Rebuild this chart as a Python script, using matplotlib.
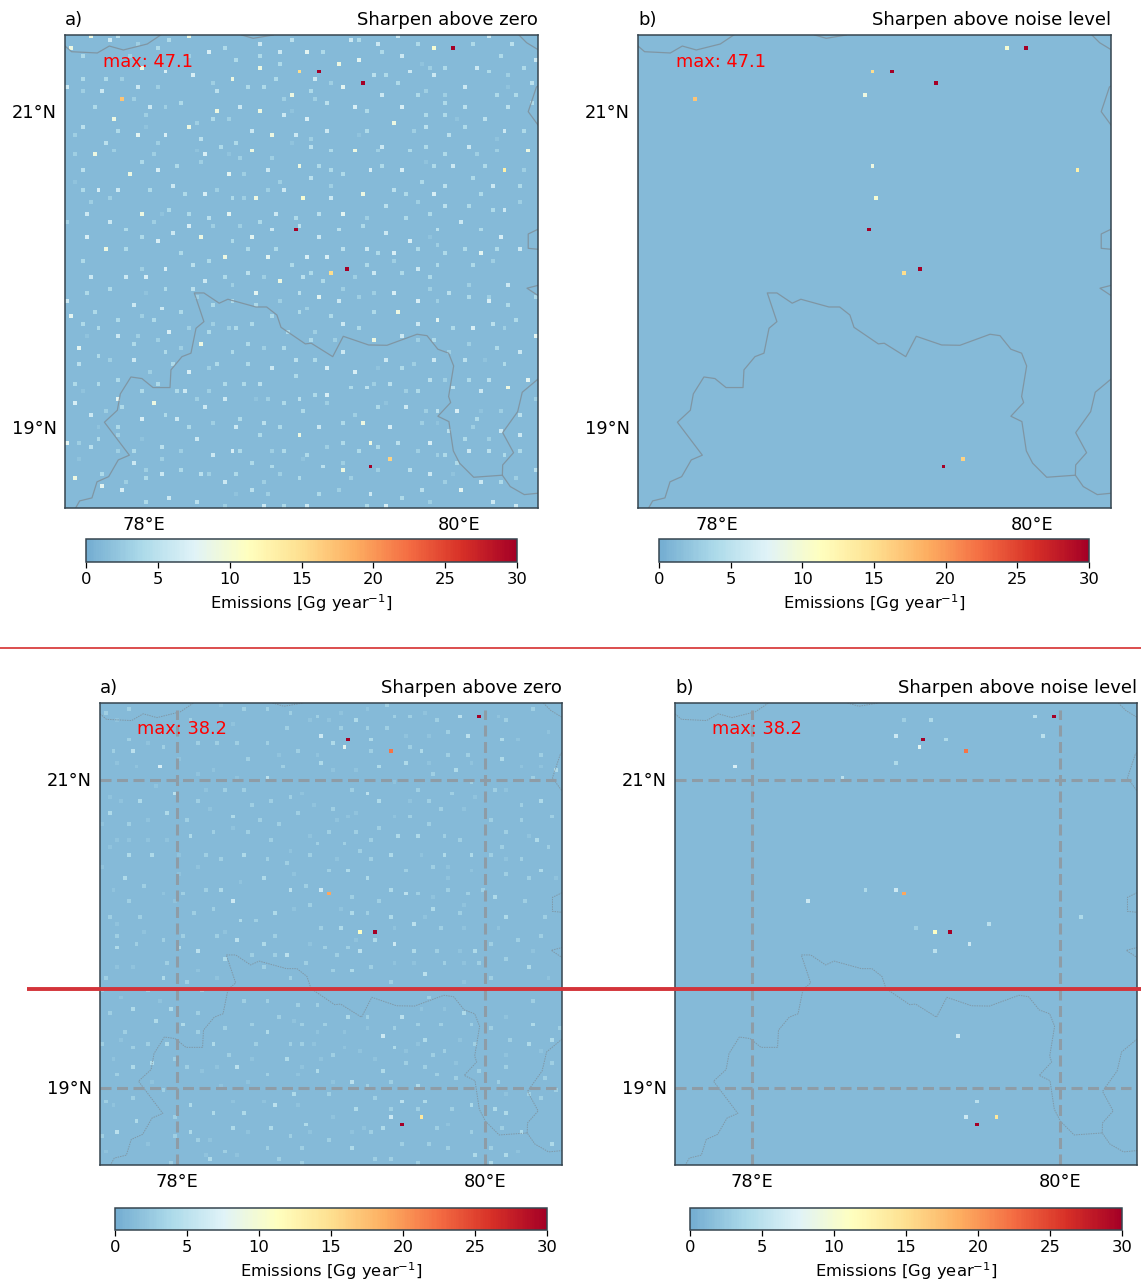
import numpy as np
import matplotlib
matplotlib.use('Agg')
import matplotlib.pyplot as plt
from matplotlib.colors import LinearSegmentedColormap, Normalize
from matplotlib.cm import ScalarMappable
from matplotlib.lines import Line2D
from matplotlib.transforms import ScaledTranslation

# emission cells on the 0.025 deg grid: (column, row from the top, Gg/year)
cells_a = [
(6,0,9),(13,0,5),(31,0,9),(11,1,6),(26,1,4),(1,3,9),(18,2,3),(23,3,4),(40,3,4),(49,2,6),(57,1,5),
(4,5,4),(16,5,3),(31,5,3),(36,4,7),(54,4,6),(49,5,4),(19,8,9),(25,9,7),(32,10,7),(43,6,4),(49,8,9),(54,7,4),(59,9,15),
(4,11,4),(10,11,4),(14,11,3),(42,11,9),(53,11,4),(0,13,6),(18,13,6),(23,13,3),(37,12,3),(46,13,4),(50,13,4),(38,14,5),(4,14,3),(9,14,6),
(14,16,17),(17,16,3),(57,15,9),(55,16,3),(7,18,4),(21,18,6),(25,18,3),(29,17,4),(38,19,9),(44,18,6),(49,19,9),(57,19,2),
(12,21,9),(20,20,3),(33,22,3),(37,21,4),(41,21,3),(55,20,6),(4,23,5),(31,23,9),(20,23,2),(13,24,4),(47,24,6),
(2,25,3),(18,25,8),(25,25,7),(34,26,5),(52,25,9),(58,25,6),(10,27,5),(23,27,3),(43,27,4),(39,28,4),(57,27,2),
(2,30,3),(7,30,9),(12,29,3),(22,30,3),(33,29,2),(35,30,7),(41,30,2),(47,29,9),(19,32,4),(34,32,3),(44,31,3),(52,31,3),(28,33,4),(59,33,9),
(4,34,5),(16,35,9),(23,34,7),(41,35,8),(45,35,3),(51,34,6),(2,37,2),(54,37,3),(27,38,6),
(4,39,4),(8,39,7),(13,39,6),(21,39,4),(38,39,3),(51,39,3),(55,39,6),(30,40,4),(35,40,7),
(6,42,3),(11,41,3),(42,41,4),(45,41,3),(48,41,9),(5,45,6),(19,45,9),(26,44,4),(24,45,2),(31,45,4),(41,45,8),(53,45,6),(58,46,4),(36,46,5),
(0,47,3),(11,47,6),(22,47,3),(49,47,4),(31,48,7),(37,48,3),(44,48,3),(59,48,5),(15,49,4),(52,49,6),(58,49,30),(27,50,6),
(5,51,7),(19,51,4),(34,51,9),(47,51,8),(23,52,7),(42,52,4),(10,54,9),(15,54,4),(46,54,4),(53,54,4),(29,55,4),(40,56,9),(51,56,8),
(4,57,4),(36,57,4),(32,58,5),(57,58,4),(25,59,7),(19,59,3),
(84,0,6),(107,0,6),(72,1,6),(74,1,4),(79,2,6),(89,2,4),(93,3,10),(98,3,30),(103,2,4),(113,2,5),
(61,4,8),(65,4,4),(80,4,4),(85,5,6),(110,5,4),(119,6,6),(69,7,9),(74,6,8),(90,7,2),(92,8,3),(96,8,4),(104,8,6),(116,8,4),
(64,9,30),(78,10,5),(81,10,4),(87,9,6),(93,10,6),(107,9,4),(112,10,3),(63,11,6),(67,12,3),(75,12,30),(84,12,4),(118,12,5),
(62,14,4),(70,13,8),(91,14,3),(101,13,6),(112,13,2),(80,15,6),(89,15,4),(96,15,3),(109,15,4),(114,15,4),
(63,16,3),(66,17,5),(96,17,4),(118,17,4),(73,18,7),(76,19,4),(85,18,7),(101,18,5),(112,18,5),
(61,21,7),(91,20,4),(96,20,4),(99,21,2),(106,21,5),(83,22,9),(91,23,5),(101,23,4),
(66,24,6),(76,24,4),(88,24,3),(111,24,6),(116,24,4),(97,25,5),(74,25,2),(62,26,3),(109,26,2),
(62,28,5),(80,28,6),(91,28,4),(102,28,6),(67,29,4),(73,29,9),(79,29,3),(87,29,4),(109,29,3),(117,29,9),
(96,30,4),(104,30,3),(91,32,2),(64,33,4),(80,33,4),(93,33,4),(98,33,6),(106,33,4),
(67,34,4),(77,34,7),(85,34,7),(111,34,13),(116,34,3),(70,35,4),(62,36,5),(103,36,4),(90,37,4),
(67,38,3),(96,38,5),(108,38,6),(115,38,4),(83,39,5),(75,40,9),(86,40,4),(93,40,7),(105,40,4),(60,41,10),(67,41,6),
(89,42,3),(115,42,3),(81,43,5),(96,43,5),(102,43,4),(108,44,4),(111,44,6),(64,45,5),(70,45,8),(92,45,4),(76,46,3),(86,46,4),
(100,47,6),(75,48,4),(69,49,5),(94,49,5),(105,49,4),(81,50,6),(64,51,6),(92,51,2),(110,51,7),(87,52,7),
(70,54,5),(76,54,6),(89,54,4),(101,54,4),(109,54,4),(115,54,6),(94,53,3),(79,55,4),(83,55,7),(96,55,4),(105,55,8),(61,56,7),(66,56,7),
(83,57,3),(108,57,3),(76,58,4),(94,58,4),(103,58,4),(71,59,30),(89,59,6),
(6,61,6),(15,61,6),(20,61,7),(40,61,4),(46,60,5),(50,61,3),(35,62,6),(54,62,9),(42,63,3),(11,64,4),(25,64,4),(32,64,5),(5,65,4),(20,65,2),(48,65,8),(59,65,5),
(0,67,6),(42,67,4),(33,66,3),(54,67,3),(17,68,6),(37,68,4),(48,68,4),(24,69,6),(7,70,4),(29,70,4),(59,70,4),(1,71,8),(19,71,3),(52,71,4),(13,72,4),(22,72,4),
(4,73,4),(37,73,3),(47,73,4),(8,74,4),(31,74,3),(41,74,3),(43,74,4),(26,75,7),(36,75,4),(56,75,4),(5,76,2),(13,76,6),(18,76,3),(23,77,3),
(17,78,4),(34,78,9),(3,79,8),(29,79,3),(46,78,4),(50,79,3),(55,79,4),(25,80,4),(42,80,4),(8,81,4),(11,82,3),(17,82,6),(58,82,5),
(3,83,5),(27,83,4),(38,83,4),(46,83,4),(36,84,3),(52,84,6),(31,85,7),(21,85,3),(58,86,4),(13,87,4),
(2,88,4),(8,88,4),(23,88,4),(40,88,4),(45,88,4),(49,88,5),(4,90,2),(19,90,4),(28,90,4),(30,90,6),(36,90,3),
(13,92,8),(40,92,6),(33,92,3),(51,92,3),(48,92,2),(59,92,5),(2,93,7),(22,93,9),(55,93,4),(14,94,4),(35,94,6),(10,95,3),(6,96,6),(25,96,4),
(19,97,7),(28,97,6),(44,97,4),(37,98,3),(50,98,5),(13,99,4),(8,99,2),(31,99,4),(43,99,6),(54,99,4),(13,101,3),(49,101,4),(59,101,9),
(8,102,4),(19,102,2),(33,102,6),(0,103,8),(3,103,3),(6,104,5),(24,104,5),(13,105,3),(17,105,4),(29,105,3),(42,105,7),(44,105,4),(52,105,3),(55,105,4),
(37,106,6),(3,107,2),(24,107,3),(17,108,6),(47,108,4),(52,109,4),(20,110,3),(29,110,4),(9,111,4),(24,111,6),(34,111,5),(36,111,3),(43,111,4),(54,111,3),
(2,112,9),(20,112,4),(59,112,4),(15,113,3),(40,113,6),(50,113,3),(9,114,8),(14,115,7),(47,115,5),(43,116,2),(51,116,3),(26,117,6),(20,118,4),(33,118,5),(40,119,3),(50,119,6),(55,119,4),
(62,60,4),(67,60,15),(78,60,6),(85,60,4),(60,61,5),(73,61,3),(92,61,4),(65,62,4),(112,63,6),(102,63,3),(70,64,3),(92,64,3),(78,65,3),(83,65,7),(97,65,5),
(64,66,8),(74,66,3),(102,66,4),(107,66,3),(119,66,4),(69,67,6),(89,67,7),(94,67,3),(107,67,7),(112,68,4),(61,69,3),(78,70,4),(84,70,9),(67,71,4),
(94,72,8),(114,72,4),(70,73,6),(89,73,6),(108,73,5),(74,74,4),(98,74,4),(103,74,7),(111,74,3),(63,75,3),(85,76,6),(119,76,8),
(62,77,4),(68,77,3),(78,77,9),(89,77,3),(93,77,4),(102,78,3),(109,79,4),(70,80,6),(97,80,3),(115,80,6),(63,82,4),(81,82,6),(93,82,6),(101,82,5),(106,82,2),
(88,83,3),(111,83,4),(66,84,7),(79,84,2),(85,84,4),(73,85,7),(92,87,5),(96,87,3),(102,87,4),(107,87,5),(117,87,8),(82,88,5),(78,88,3),
(72,89,4),(76,89,5),(98,89,5),(112,89,9),(86,90,3),(89,90,4),(105,90,6),(63,91,4),(66,91,7),(119,92,3),(66,93,3),(81,93,2),(79,94,4),(86,94,6),
(60,95,4),(91,95,3),(94,95,5),(99,95,7),(105,95,2),(110,95,3),(73,96,3),(115,96,5),(104,97,4),(70,98,4),(75,98,9),(90,98,3),(94,98,2),(64,99,6),(82,99,7),(103,99,3),
(97,100,5),(110,100,6),(115,101,6),(70,103,4),(77,103,9),(84,103,5),(92,103,7),(66,104,3),(79,104,4),(101,102,4),(107,102,3),(61,106,4),(74,105,4),(89,105,3),(96,106,4),(94,106,3),(102,105,6),(107,105,5),(115,105,4),(111,106,4),
(82,107,16),(60,107,2),(70,108,3),(99,108,4),(65,109,5),(77,109,30),(70,110,9),(79,110,3),(87,110,5),(119,110,5),(92,111,6),(98,111,2),(72,112,3),(114,112,3),(96,113,3),(105,113,6),(110,113,4),
(90,115,5),(100,115,8),(69,115,3),(64,116,4),(77,116,6),(85,117,4),(92,118,3),(108,118,6),(61,119,6),(76,119,4),(81,119,7),(114,119,6),
]
cells_b = [
(93,3,10),(98,3,30),(59,9,15),(64,9,30),(75,12,30),(57,15,9),(14,16,17),(59,33,9),(111,34,13),(60,41,10),
(58,49,30),(67,60,15),(71,59,30),(77,109,30),(82,107,16),
]
cells_c = [
(1,2,3),(7,1,3),(31,0,2),(37,1,3),(43,1,3),(49,2,3),(4,4,2),(23,4,3),(34,5,2),(54,4,2),(56,3,3),(59,4,2),
(7,9,3),(12,10,2),(25,10,3),(30,10,3),(35,10,3),(43,10,3),(48,6,3),(57,8,6),(16,11,3),(3,12,3),(8,12,5),(20,14,2),(51,12,3),(46,13,2),(56,13,2),
(4,15,2),(9,16,2),(15,16,7),(29,17,2),(38,14,3),(47,16,3),(57,15,4),(60,17,2),(25,18,2),(43,19,5),(35,19,2),(14,21,2),(32,22,3),(37,22,3),(19,23,5),(27,22,2),(5,25,2),
(10,25,4),(25,25,3),(39,26,3),(44,25,3),(49,24,3),(52,23,2),(55,26,2),(2,24,2),(60,27,3),(28,27,2),(2,28,4),(17,28,4),(34,29,4),(51,28,3),
(7,31,3),(12,30,2),(22,30,3),(41,30,3),(46,31,3),(0,31,2),(34,32,2),(23,34,4),(29,33,3),(38,33,3),(59,33,3),(54,34,2),
(4,35,2),(7,35,2),(12,35,2),(17,35,2),(44,35,3),(56,36,3),(2,37,2),(49,38,2),(7,39,4),(13,39,4),(20,39,2),(27,39,3),(37,39,4),(54,39,3),(43,40,3),(31,40,3),(48,41,3),
(0,42,2),(25,42,2),(59,43,3),(6,45,4),(20,44,2),(42,45,4),(50,44,2),(57,48,6),(36,46,2),(11,47,3),(3,48,2),(16,49,2),(21,49,3),(27,48,3),(31,48,4),(49,48,5),(53,47,3),(59,49,19),
(7,51,3),(19,51,2),(34,51,6),(29,53,3),(54,52,3),(50,53,2),(2,55,3),(10,55,3),(24,54,3),(45,54,4),(4,57,2),(36,56,4),(40,56,3),(57,58,3),(11,59,2),(32,59,2),
(62,2,2),(69,1,2),(74,0,3),(66,4,4),(76,3,3),(80,3,3),(84,2,2),(87,4,3),(93,3,5),(98,3,30),(103,3,2),(105,4,3),(112,1,3),(62,6,3),(69,6,3),(74,6,3),(90,7,3),(85,8,2),(79,8,2),(95,8,5),(116,7,2),
(64,9,30),(70,9,4),(104,9,4),(108,9,2),(60,10,4),(63,11,8),(70,12,3),(75,12,22),(80,11,3),(83,12,4),(90,13,3),(95,13,3),(114,13,3),
(66,17,2),(72,16,4),(79,15,4),(104,14,4),(92,17,4),(85,15,2),(96,15,2),(109,16,2),(114,16,2),(118,17,4),(86,18,3),(76,20,2),(96,20,3),(112,19,3),
(65,22,3),(69,23,5),(82,22,3),(91,23,3),(102,22,3),(97,24,2),(105,22,2),(72,25,4),(85,25,3),(80,25,2),(114,25,4),(109,26,3),(60,27,3),(88,27,3),(94,27,2),(66,28,2),
(64,29,2),(76,29,2),(80,29,3),(117,29,3),(61,30,2),(101,30,3),(109,30,3),(85,31,3),(72,32,3),(66,33,3),(105,33,3),(77,34,4),(82,34,4),(89,34,3),(111,34,2),
(70,35,3),(93,35,3),(113,35,4),(63,36,3),(104,37,3),(116,37,3),(67,38,3),(75,39,4),(83,39,2),(89,39,4),(96,39,4),(101,39,3),(61,40,2),(70,40,3),(105,40,2),(109,40,3),
(86,42,3),(90,42,2),(64,43,4),(79,43,3),(96,43,2),(114,43,4),(105,44,3),(69,45,4),(90,45,2),(111,45,3),(118,45,2),(75,48,4),(90,48,3),(79,49,5),(82,49,3),(95,49,3),(99,48,3),
(65,50,3),(86,50,2),(102,50,4),(72,51,3),(110,51,3),(94,52,2),(86,53,4),(62,53,2),(65,54,4),(69,54,3),(93,54,3),(75,55,4),(105,55,4),(115,55,3),(84,55,2),
(81,57,5),(88,58,3),(62,58,4),(76,58,2),(94,58,2),(103,58,2),(67,59,11),(71,59,30),
(4,60,3),(16,61,3),(9,62,3),(4,63,4),(21,60,3),(30,60,3),(35,61,5),(42,62,4),(45,60,3),(20,63,4),(25,64,5),(54,62,2),(58,63,3),(39,65,3),(45,65,3),(48,65,5),(32,66,4),(53,67,3),
(17,67,3),(4,68,2),(8,68,2),(42,68,3),(25,69,2),(60,69,3),(1,71,3),(16,71,4),(22,72,3),(30,71,2),(49,71,3),(0,74,3),(5,76,2),(12,74,3),(15,77,2),(26,74,3),(37,77,3),(43,77,3),(51,78,3),(56,78,3),
(8,79,4),(18,79,4),(2,80,3),(25,80,3),(46,81,3),(14,82,4),(21,83,4),(39,83,3),(50,82,2),(52,83,3),(58,83,3),(32,84,3),(6,85,3),(25,85,3),(43,85,4),(56,85,2),
(5,87,2),(0,88,3),(8,89,3),(12,88,3),(17,88,4),(29,88,4),(40,88,3),(49,88,3),(52,88,3),(55,88,2),(3,92,2),(19,92,3),(33,91,3),(48,92,4),(39,92,2),(57,92,2),
(13,93,4),(8,94,4),(22,94,3),(30,94,2),(35,94,5),(52,94,2),(26,95,2),(56,95,4),(4,96,3),(43,96,3),(51,96,2),(13,98,2),(38,98,2),(16,100,3),(31,99,2),(8,102,3),(50,101,4),(59,101,3),
(1,103,3),(34,103,2),(42,103,2),(23,104,4),(45,104,5),(3,104,2),(51,104,2),(29,106,4),(37,106,4),(19,107,3),(60,107,3),(9,108,4),(53,109,4),(34,110,4),(44,110,4),(23,111,4),(4,111,5),(38,111,2),(54,111,2),
(0,112,3),(19,112,3),(49,112,3),(25,113,3),(28,113,2),(59,113,3),(12,114,2),(43,115,3),(52,115,3),(1,116,2),(32,116,3),(35,117,2),(28,118,4),(46,118,3),(18,119,3),(52,119,3),(27,117,2),
(71,61,4),(76,62,6),(64,63,3),(101,62,3),(108,61,3),(114,60,3),(66,61,2),(67,64,5),(81,64,4),(87,64,3),(93,64,2),(97,64,4),(112,64,2),(61,65,3),(70,68,3),(89,67,3),(105,66,3),(98,67,3),(76,67,2),(81,67,2),(94,67,2),(111,68,4),
(65,69,4),(84,70,5),(101,71,3),(75,72,3),(94,72,2),(116,71,2),(112,77,3),(85,76,3),(83,79,2),(89,79,2),(78,81,5),(64,81,4),(69,81,3),(94,80,4),(105,81,2),
(82,83,3),(88,83,3),(96,83,3),(112,83,4),(69,84,2),(76,84,3),(101,84,3),(119,84,3),(63,85,2),(73,86,6),(84,87,4),(106,87,3),(117,87,4),(93,87,2),(82,88,2),(97,88,3),(111,88,4),(63,89,2),(76,89,4),
(89,90,3),(67,90,2),(79,90,2),(60,91,3),(86,91,3),(105,91,2),(114,90,2),(71,92,2),(79,93,3),(92,93,2),(117,93,3),(84,94,3),(105,94,3),(98,95,3),(73,95,4),(87,96,3),(115,97,3),
(92,97,3),(65,98,5),(75,98,3),(103,98,3),(60,98,2),(82,99,4),(69,99,3),(111,101,3),(105,101,2),(118,100,3),(71,102,3),(84,103,4),(78,103,5),(114,102,3),
(66,105,4),(82,105,3),(75,105,3),(91,105,3),(96,104,4),(102,105,4),(105,106,4),(75,107,6),(83,107,14),(60,107,2),(90,109,2),(78,109,30),(73,110,4),(70,111,3),(87,110,3),(65,111,2),(68,110,2),(96,111,3),(104,110,3),(109,111,4),
(78,114,3),(85,114,3),(117,114,4),(65,115,4),(90,115,3),(101,115,3),(108,116,2),(97,117,4),(105,117,4),(71,118,3),(75,118,3),(82,119,3),(101,119,4),
]
cells_d = [
(59,4,3),(66,4,4),(93,3,5),(98,3,30),(57,8,6),(95,8,5),(70,9,4),(64,9,30),(63,11,8),(75,12,22),(15,16,7),(57,15,4),(43,19,5),
(49,48,4),(57,48,6),(59,49,19),(34,51,6),(62,58,3),(67,59,11),(71,59,30),(81,57,5),(76,62,6),(67,64,5),(105,55,4),
(73,86,6),(78,103,5),(75,107,6),(83,107,14),(78,109,30),
]

background = 1.2
vmin, vmax = 0, 30
cbar_ticks = [0, 5, 10, 15, 20, 25, 30]
lon_ticks = [78, 80]
lat_ticks = [19, 21]
panel_letters = ['a)', 'b)', 'a)', 'b)']
panel_titles = ['Sharpen above zero', 'Sharpen above noise level', 'Sharpen above zero', 'Sharpen above noise level']
panel_max = ['max: 47.1', 'max: 47.1', 'max: 38.2', 'max: 38.2']

# state borders, lon/lat
border_main_lon = [77.565,77.593,77.671,77.703,77.777,77.838,77.908,77.75,77.832,77.851,77.918,77.988,78.058,78.166,78.172,78.242,78.299,78.331,78.381,78.32,78.381,78.478,78.533,78.711,78.779,78.844,78.87,79.024,79.062,79.198,79.265,79.426,79.542,79.733,79.796,79.865,79.933,79.965,79.933,79.946,79.865,79.935,79.963,80.003,80.092,80.274,80.324,80.413,80.504]
border_main_lat = [18.496,18.545,18.564,18.666,18.699,18.805,18.835,19.044,19.12,19.224,19.331,19.321,19.264,19.264,19.376,19.46,19.482,19.64,19.682,19.864,19.864,19.799,19.824,19.775,19.775,19.724,19.646,19.541,19.545,19.46,19.589,19.534,19.532,19.602,19.593,19.507,19.482,19.401,19.207,19.169,19.082,19.048,18.862,18.784,18.695,18.708,18.636,18.585,18.594]
border_branch_lon = [80.274,80.276,80.345,80.276,80.371,80.4,80.504]
border_branch_lat = [18.708,18.773,18.851,18.978,19.111,19.234,19.321]
border_inset_lon = [80.504,80.43,80.504]
border_inset_lat = [19.913,19.894,19.845]
border_nw_lon = [77.5,77.542,77.705,77.781,77.87,78.022,78.107]
border_nw_lat = [21.43,21.394,21.386,21.43,21.405,21.443,21.5]
border_n_lon = [78.62,78.694,78.821]
border_n_lat = [21.5,21.479,21.5]
border_ne_lon = [80.379,80.428,80.497]
border_ne_lat = [21.5,21.451,21.409]
border_e_lon = [80.5,80.49,80.438,80.5]
border_e_lat = [21.177,21.17,21.014,20.929]
border_e2_lon = [80.5,80.438,80.438,80.5]
border_e2_lat = [20.268,20.238,20.147,20.141]
borders = [(border_main_lon,border_main_lat),(border_branch_lon,border_branch_lat),(border_inset_lon,border_inset_lat),
           (border_nw_lon,border_nw_lat),(border_n_lon,border_n_lat),(border_ne_lon,border_ne_lat),
           (border_e_lon,border_e_lat),(border_e2_lon,border_e2_lat)]

W, H = 1141, 1283
fig = plt.figure(figsize=(W/100, H/100), dpi=100)

def rect(x0, y0, x1, y1):
    # pixel box (y from the top) to figure fractions
    return [x0/W, 1-y1/H, (x1-x0)/W, (y1-y0)/H]

base = plt.cm.RdYlBu_r(np.linspace(0.2, 1, 256))
cmap = LinearSegmentedColormap.from_list('emis', base)
norm = Normalize(vmin, vmax)

def draw_panel(box, cbar_box, cells, letter, title, maxtxt, grid, label_dy):
    ax = fig.add_axes(rect(*box))
    field = np.full((120, 120), background)
    for c, r, v in cells:
        field[r, c] = v
    ax.imshow(field, cmap=cmap, norm=norm, extent=(77.5, 80.5, 18.5, 21.5),
              origin='upper', aspect='auto', interpolation='nearest')
    for blon, blat in borders:
        if grid:
            ax.plot(blon, blat, color='#7f929e', lw=0.7, ls=(0, (1.5, 1)), alpha=0.85)
        else:
            ax.plot(blon, blat, color='#7f929e', lw=0.9, alpha=0.9)
    if grid:
        for lo in lon_ticks:
            ax.plot([lo, lo], [18.5, 21.455], color='#8e9ca6', lw=2.2, ls=(0, (3.6, 1.8)))
        for la in lat_ticks:
            ax.plot([77.5, 80.46], [la, la], color='#8e9ca6', lw=2.2, ls=(0, (3.6, 1.8)))
    ax.set_xlim(77.5, 80.5)
    ax.set_ylim(18.5, 21.5)
    ax.set_xticks(lon_ticks)
    ax.set_xticklabels(['%d°E' % v for v in lon_ticks], fontsize=12.8)
    ax.set_yticks(lat_ticks)
    ax.set_yticklabels(['%d°N' % v for v in lat_ticks], fontsize=12.8)
    ax.tick_params(length=0, pad=6)
    shift = ScaledTranslation(0, label_dy/72, fig.dpi_scale_trans)
    for lab in ax.get_yticklabels():
        lab.set_transform(lab.get_transform() + shift)
    for s in ax.spines.values():
        s.set_linewidth(1.1)
        s.set_color('#36454f')
    ax.text(0, 1.012, letter, transform=ax.transAxes, fontsize=13, ha='left', va='bottom')
    ax.text(1, 1.012, title, transform=ax.transAxes, fontsize=13, ha='right', va='bottom')
    ax.text(0.08, 0.943, maxtxt, transform=ax.transAxes, fontsize=12.8, color='red', ha='left', va='center')

    cax = fig.add_axes(rect(*cbar_box))
    cb = fig.colorbar(ScalarMappable(norm=norm, cmap=cmap), cax=cax, orientation='horizontal')
    cb.set_ticks(cbar_ticks)
    cb.ax.tick_params(labelsize=11.8, length=4, width=0.9, pad=3)
    cb.set_label('Emissions [Gg year$^{-1}$]', fontsize=11.8, labelpad=4)
    cb.outline.set_linewidth(1.1)
    cb.outline.set_edgecolor('#36454f')

draw_panel((65, 35, 538, 508), (86, 539, 517, 562), cells_a, panel_letters[0], panel_titles[0], panel_max[0], False, 1.8)
draw_panel((638, 35, 1111, 508), (659, 539, 1089, 562), cells_b, panel_letters[1], panel_titles[1], panel_max[1], False, 1.8)
draw_panel((100, 703, 562, 1165), (115, 1208, 547, 1230), cells_c, panel_letters[2], panel_titles[2], panel_max[2], True, 0.8)
draw_panel((675, 703, 1137, 1165), (690, 1208, 1122, 1230), cells_d, panel_letters[3], panel_titles[3], panel_max[3], True, 0.8)

# red separators drawn over everything
fig.add_artist(Line2D([0, 1], [1-648/H, 1-648/H], color='#d62f2f', lw=1.2, transform=fig.transFigure, solid_capstyle='butt'))
fig.add_artist(Line2D([27/W, 1], [1-989/H, 1-989/H], color='#d3343a', lw=2.8, transform=fig.transFigure, solid_capstyle='butt'))

fig.savefig('out.png', dpi=100)
